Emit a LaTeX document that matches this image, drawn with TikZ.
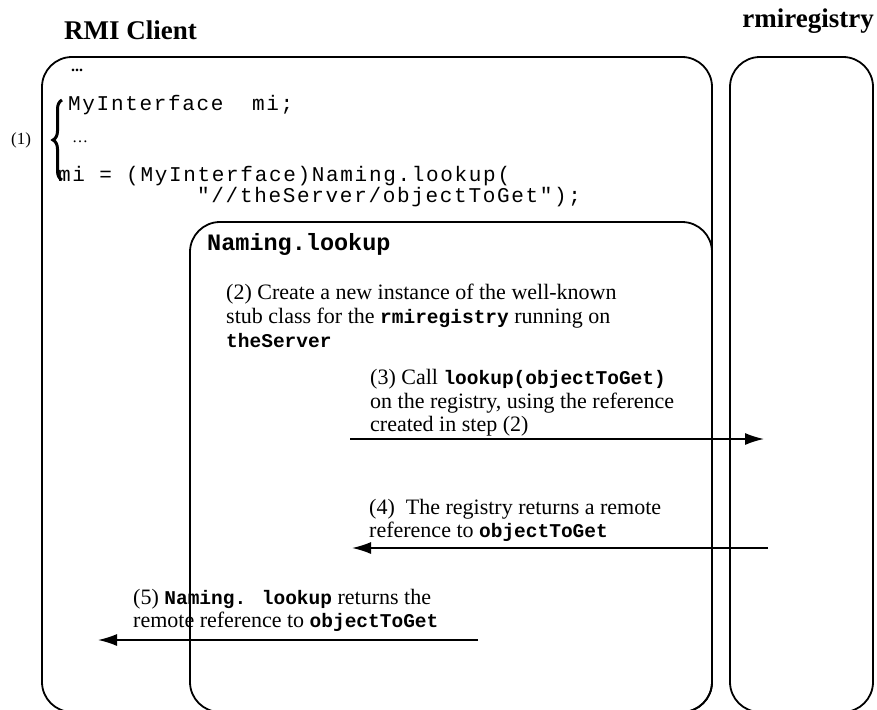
\documentclass[tikz,border=0pt]{standalone}
\usepackage{fontspec}
\setmainfont{Liberation Serif}
\newfontfamily\mono{Liberation Mono}
\newfontfamily\monowide[LetterSpace=8]{Liberation Mono}
\usetikzlibrary{arrows.meta,decorations.pathreplacing}
\tikzset{
  box/.style={draw=black, line width=1.8pt, rounded corners=30pt},
  msg/.style={draw=black, line width=1.5pt, -{Latex[length=19pt,width=12pt]}},
  title/.style={font=\fontsize{27}{30}\selectfont\bfseries, inner sep=0pt},
  code/.style={font=\monowide\fontsize{21}{21}\selectfont, inner sep=0pt, anchor=base west, align=left},
  txt/.style={font=\fontsize{22}{24}\selectfont, inner sep=0pt, anchor=base west},
  head/.style={font=\mono\bfseries\fontsize{23.5}{26}\selectfont, inner sep=0pt, anchor=base west},
}
\newcommand{\cw}[1]{{\mono\bfseries\fontsize{19.5}{22}\selectfont #1}}
\begin{document}
\begin{tikzpicture}[x=1pt,y=-1pt]
\useasboundingbox[fill=white] (0,0) rectangle (877,709);
% boxes
\draw[box] (42,57) rectangle (712,712);
\draw[box] (730,57) rectangle (873,712);
\draw[box] (190,222) rectangle (712,712);
% titles
\node[title, anchor=base west] (client) at (64,40) {RMI Client};
\node[title, anchor=base east] (registry) at (874,28) {rmiregistry};
% client code
\node[font=\bfseries\fontsize{16}{18}\selectfont, inner sep=0pt, anchor=base west] (dots0) at (71,71) {...};
\node[code] (c1) at (68,110) {MyInterface\ \ mi;};
\node[font=\fontsize{16}{18}\selectfont, inner sep=0pt, anchor=base west] (dots1) at (72,142) {\ldots};
\node[code] (c2) at (58,202) {mi = (MyInterface)Naming.lookup(\\\hspace*{139pt}"//theServer/objectToGet");};
\node[font=\fontsize{17}{19}\selectfont, inner sep=0pt] (one) at (21,140) {(1)};
\draw[line width=3pt, decorate, decoration={brace, amplitude=9pt}]
  (62,180) -- (62,100);
% Naming.lookup
\node[head] (nl) at (207,250) {Naming.lookup};
\node[txt] (s2a) at (226,299) {(2) Create a new instance of the well-known};
\node[txt] (s2b) at (226,323) {stub class for the \cw{rmiregistry} running on};
\node[txt] (s2c) at (226,347) {\cw{theServer}};
\node[txt] (s3a) at (370,384) {(3) Call \cw{lookup(objectToGet)}};
\node[txt] (s3b) at (370,408) {on the registry, using the reference};
\node[txt] (s3c) at (370,431) {created in step (2)};
\node[txt] (s4a) at (369,514) {(4)\ \ The registry returns a remote};
\node[txt] (s4b) at (369,537) {reference to \cw{objectToGet}};
\node[txt] (s5a) at (133,604) {(5) \cw{Naming. lookup} returns the};
\node[txt] (s5b) at (133,627) {remote reference to \cw{objectToGet}};
% arrows
\coordinate (a3s) at (350,439);
\coordinate (a3e) at (764,439);
\coordinate (a4s) at (768,548);
\coordinate (a4e) at (352,548);
\coordinate (a5s) at (478,640);
\coordinate (a5e) at (98,640);
\draw[msg] (a3s) -- (a3e);
\draw[msg] (a4s) -- (a4e);
\draw[msg] (a5s) -- (a5e);
\end{tikzpicture}
\end{document}
